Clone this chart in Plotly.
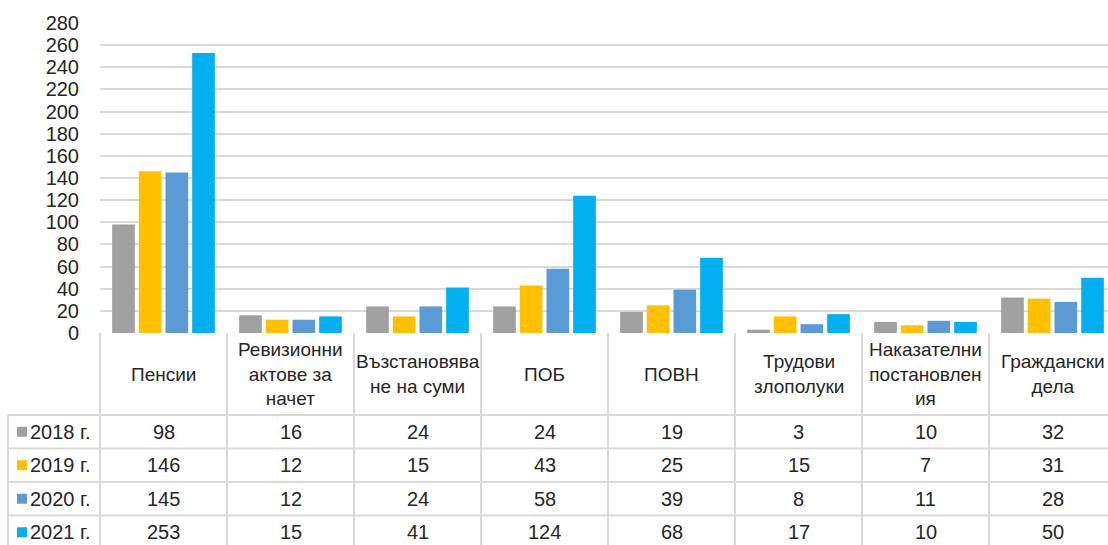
import plotly.graph_objects as go

# ---------------- data ----------------
categories = ["Пенсии", "Ревизионни<br>актове за<br>начет", "Възстановява<br>не на суми", "ПОБ",
              "ПОВН", "Трудови<br>злополуки", "Наказателни<br>постановлен<br>ия", "Граждански<br>дела"]
series_names = ["2018 г.", "2019 г.", "2020 г.", "2021 г."]
v2018 = [98, 16, 24, 24, 19, 3, 10, 32]
v2019 = [146, 12, 15, 43, 25, 15, 7, 31]
v2020 = [145, 12, 24, 58, 39, 8, 11, 28]
v2021 = [253, 15, 41, 124, 68, 17, 10, 50]
y_ticks = list(range(0, 281, 20))

series_values = [v2018, v2019, v2020, v2021]
colors = ["#a0a0a0", "#ffc000", "#5b9bd5", "#00b0f0"]

# ---------------- layout geometry ----------------
W, H = 1108, 545
PLOT_LEFT, TABLE_LEFT, CAT_PX = 100, 8, 127
ZERO_Y, TOP_Y = 333, 23
HEADER_H, ROW_H = 82, 33.5
FONT = "Liberation Sans, Arial, sans-serif"
TXT = "#262626"
GRID = "#d9d9d9"

x_range = [-0.5, -0.5 + (W - PLOT_LEFT) / CAT_PX]
x2_range = [x_range[1] - (W - TABLE_LEFT + 2) / CAT_PX, x_range[1]]
legend_left = -0.5 - (PLOT_LEFT - TABLE_LEFT) / CAT_PX
def px_to_x2(px):
    return -0.5 - (PLOT_LEFT - px) / CAT_PX

idx = list(range(len(categories)))

fig = go.Figure()
for name, vals, col in zip(series_names, series_values, colors):
    fig.add_trace(go.Bar(x=idx, y=vals, name=name, marker=dict(color=col, line=dict(width=0)),
                         xaxis="x", yaxis="y", showlegend=False))

# legend keys in table
row_centers = [HEADER_H + ROW_H * (r + 0.5) for r in range(len(series_names))]
fig.add_trace(go.Scatter(x=[px_to_x2(22)] * len(series_names), y=row_centers, mode="markers",
                         marker=dict(symbol="square", size=10, color=colors),
                         xaxis="x2", yaxis="y2", showlegend=False, hoverinfo="skip"))

shapes = []
line = dict(color=GRID, width=2)
for r in range(len(series_names)):
    yy = HEADER_H + ROW_H * r
    shapes.append(dict(type="line", xref="x2", yref="y2", x0=legend_left, x1=x_range[1] + 1,
                       y0=yy, y1=yy, line=line))
for k in range(len(categories) + 1):
    shapes.append(dict(type="line", xref="x2", yref="y2", x0=-0.5 + k, x1=-0.5 + k,
                       y0=0, y1=H, line=line))
shapes.append(dict(type="line", xref="x2", yref="y2", x0=legend_left, x1=legend_left,
                   y0=HEADER_H, y1=H, line=line))

annotations = []
for i, c in enumerate(categories):
    annotations.append(dict(x=i, y=HEADER_H / 2, xref="x2", yref="y2", text=c, showarrow=False,
                            font=dict(family=FONT, size=19, color=TXT), align="center",
                            xanchor="center", yanchor="middle"))
for r, (name, vals) in enumerate(zip(series_names, series_values)):
    annotations.append(dict(x=px_to_x2(28), y=row_centers[r], xref="x2", yref="y2", text=name,
                            showarrow=False, font=dict(family=FONT, size=20, color=TXT),
                            xanchor="left", yanchor="middle"))
    for i, v in enumerate(vals):
        annotations.append(dict(x=i, y=row_centers[r], xref="x2", yref="y2", text=str(v),
                                showarrow=False, font=dict(family=FONT, size=20, color=TXT),
                                xanchor="center", yanchor="middle"))

fig.update_layout(
    width=W, height=H, autosize=False,
    margin=dict(l=0, r=0, t=0, b=0, pad=0, autoexpand=False),
    paper_bgcolor="white", plot_bgcolor="white",
    barmode="group", bargap=0.16, bargroupgap=0.15,
    showlegend=False,
    xaxis=dict(domain=[PLOT_LEFT / W, 1], range=x_range, showticklabels=False, showgrid=False,
               zeroline=False, showline=False, ticks="", automargin=False),
    yaxis=dict(domain=[(H - ZERO_Y) / H, (H - TOP_Y) / H], range=[0, 280], tickvals=y_ticks,
               showgrid=True, gridcolor=GRID, gridwidth=2, zeroline=False, showline=False,
               ticks="", ticklabelstandoff=20, automargin=False,
               tickfont=dict(family=FONT, size=20, color=TXT)),
    xaxis2=dict(domain=[(TABLE_LEFT - 2) / W, 1], range=x2_range, visible=False, anchor="y2",
                automargin=False),
    yaxis2=dict(domain=[0, (H - ZERO_Y) / H], range=[H - ZERO_Y, 0], visible=False, anchor="x2",
                automargin=False),
    shapes=shapes,
    annotations=annotations,
)

fig.write_html("out.html", config={"displayModeBar": False},
               post_script="document.body.style.margin='0';document.body.style.overflow='hidden';")
